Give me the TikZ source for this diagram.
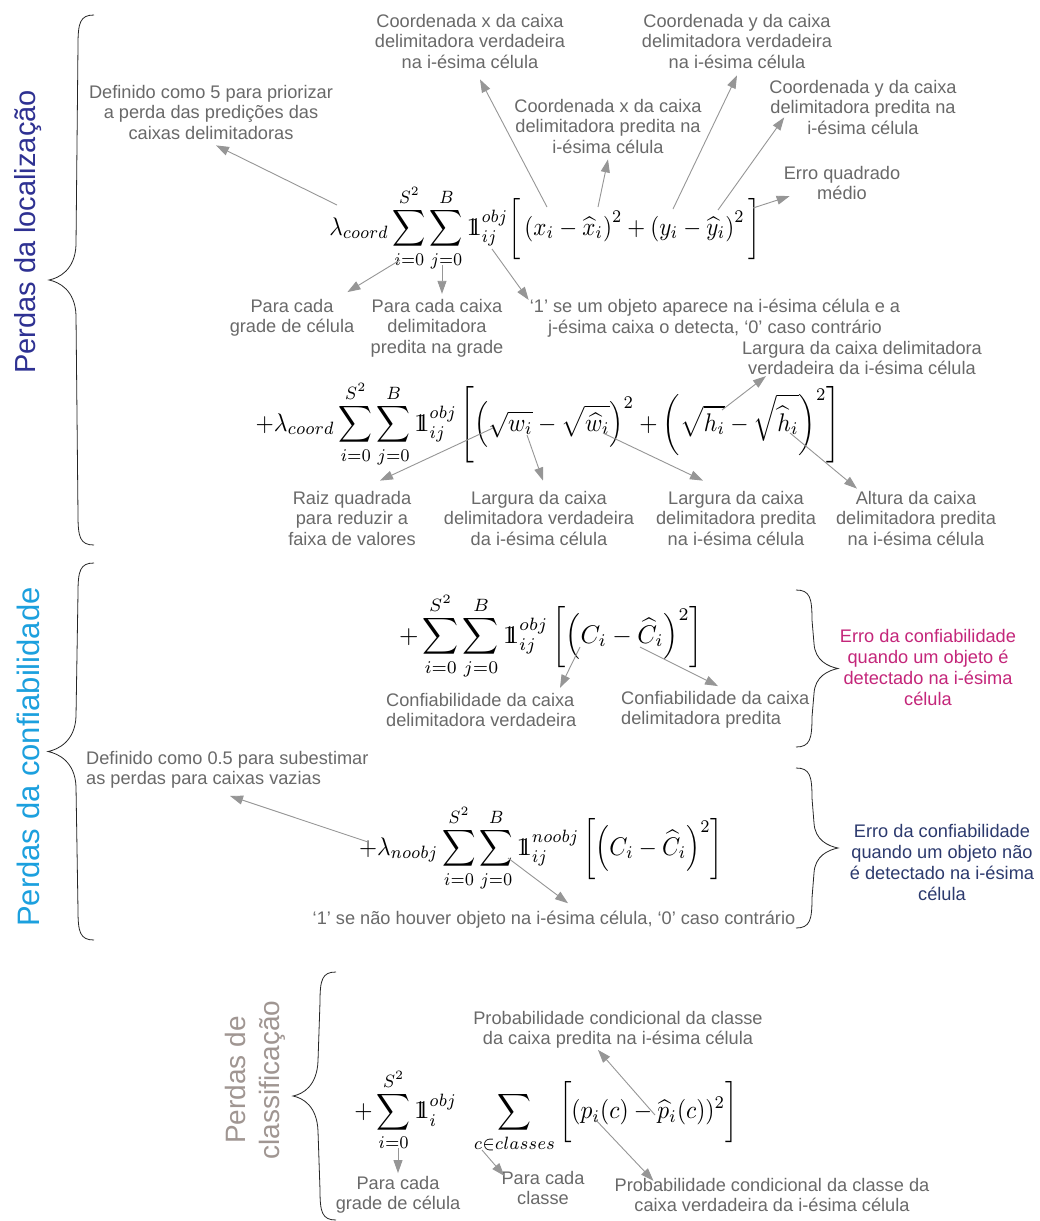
\documentclass[tikz,border=0pt]{standalone}
\usepackage{amsmath}
\usepackage[no-math]{fontspec}
\newfontfamily\lf[Ligatures=TeX]{Liberation Sans}
\usetikzlibrary{arrows.meta,calc}
\definecolor{txtgray}{RGB}{105,105,105}
\definecolor{arrgray}{RGB}{150,150,150}
\definecolor{locblue}{RGB}{46,49,146}
\definecolor{confblue}{RGB}{28,160,222}
\definecolor{clsgray}{RGB}{160,150,146}
\definecolor{errmag}{RGB}{196,38,122}
\definecolor{errblue}{RGB}{44,58,110}
\newcommand{\ind}{\mathrm{1}\mkern-6.5mu\mathrm{1}}
\newcommand{\bracel}[4]{% stem x, top y, bottom y, tip x
  \draw[bracestyle] ({#1+16},#2) .. controls ({#1+2},#2) and (#1,{#2+8}) .. (#1,{#2+30})
    -- ({#1-2},{(#2+#3)/2-35}) .. controls ({#1-3},{(#2+#3)/2-10}) and ({#4+10},{(#2+#3)/2-2}) .. (#4,{(#2+#3)/2})
    .. controls ({#4+10},{(#2+#3)/2+2}) and ({#1-3},{(#2+#3)/2+10}) .. ({#1-2},{(#2+#3)/2+35})
    -- (#1,{#3-30}) .. controls (#1,{#3-8}) and ({#1+2},#3) .. ({#1+16},#3);}
\newcommand{\bracer}[4]{% stem x, top y, bottom y, tip x
  \draw[bracestyle] ({#1-16},#2) .. controls ({#1-2},#2) and (#1,{#2+8}) .. (#1,{#2+30})
    -- ({#1+2},{(#2+#3)/2-25}) .. controls ({#1+3},{(#2+#3)/2-8}) and ({#4-10},{(#2+#3)/2-2}) .. (#4,{(#2+#3)/2})
    .. controls ({#4-10},{(#2+#3)/2+2}) and ({#1+3},{(#2+#3)/2+8}) .. ({#1+2},{(#2+#3)/2+25})
    -- (#1,{#3-30}) .. controls (#1,{#3-8}) and ({#1-2},#3) .. ({#1-16},#3);}
\begin{document}
\begin{tikzpicture}[x=1pt,y=-1pt,
  lbl/.style={font=\lf\fontsize{18.2}{20.5}\selectfont, text=txtgray, align=center, inner sep=1pt},
  frm/.style={yscale=2.55, transform shape, inner sep=0pt},
  arr/.style={draw=arrgray, line width=0.9pt, -{Triangle[length=13pt,width=9pt]}},
  bracestyle/.style={draw=black!85, line width=0.8pt},
  side/.style={font=\lf\fontsize{29}{34}\selectfont, rotate=90, align=center, inner sep=0pt},
  errlbl/.style={font=\lf\fontsize{18.2}{21}\selectfont, align=center, inner sep=1pt}]
\fill[white] (0,0) rectangle (1040,1221);
\useasboundingbox (0,0) rectangle (1040,1221);

% side labels
\node[side, text=locblue] (L1) at (28,232) {Perdas da localização};
\node[side, text=confblue, font=\lf\fontsize{31}{34}\selectfont] (L2) at (28,757) {Perdas da confiabilidade};
\node[side, text=clsgray, font=\lf\fontsize{28}{34}\selectfont] (L3) at (255,1080) {Perdas de\\classificação};

% braces
\bracel{78}{15}{545}{49}
\bracel{78}{563}{940}{48}
\bracel{320}{972}{1220}{293}
\bracer{812}{590}{747}{838}
\bracer{812}{768}{928}{838}

% ---------- localization ----------
\node[frm, xscale=2.3] (F1) at (545,228) {$\displaystyle \lambda_{coord}\sum_{i=0}^{S^2}\sum_{j=0}^{B}\ind_{ij}^{obj}\bigg[\left(x_i-\widehat{x}_i\right)^2+\left(y_i-\widehat{y}_i\right)^2\bigg]$};
\node[lbl] (def5) at (211,112) {Definido como 5 para priorizar\\a perda das predições das\\caixas delimitadoras};
\node[lbl] (cxv) at (470,41) {Coordenada x da caixa\\delimitadora verdadeira\\na i-ésima célula};
\node[lbl] (cyv) at (737,41) {Coordenada y da caixa\\delimitadora verdadeira\\na i-ésima célula};
\node[lbl] (cxp) at (608,126) {Coordenada x da caixa\\delimitadora predita na\\i-ésima célula};
\node[lbl] (cyp) at (863,107) {Coordenada y da caixa\\delimitadora predita na\\i-ésima célula};
\node[lbl] (eqm) at (842,183) {Erro quadrado\\médio};
\node[lbl] (pcg1) at (292,318) {Para cada\\grade de célula};
\node[lbl] (pcc) at (437,328) {Para cada caixa\\delimitadora\\predita na grade};
\node[lbl] (um1) at (715,318) {`1' se um objeto aparece na i-ésima célula e a\\j-ésima caixa o detecta, `0' caso contrário};
\node[lbl] (lvh) at (862,358) {Largura da caixa delimitadora\\verdadeira da i-ésima célula};

\coordinate (t-lam1) at (337,205);
\coordinate (t-i1) at (400,260);
\coordinate (t-j1) at (442,265);
\coordinate (t-ind1) at (492,249);
\coordinate (t-x) at (547,207);
\coordinate (t-xh) at (598,207);
\coordinate (t-y) at (673,209);
\coordinate (t-yh) at (718,210);
\coordinate (t-br1) at (753,208);
\draw[arr] (t-lam1) -- ($(def5.south)+(5,5)$);
\draw[arr] (t-i1) -- ($(pcg1.north east)+(-8,-6)$);
\draw[arr] (t-j1) -- ($(t-j1 |- pcc.north)+(0,-4)$);
\draw[arr] (t-ind1) -- ($(um1.north west)+(0,2)$);
\draw[arr] (t-x) -- ($(cxv.south)+(10,10)$);
\draw[arr] (t-xh) -- ($(cxp.south)+(0,5)$);
\draw[arr] (t-y) -- ($(cyv.south)+(0,6)$);
\draw[arr] (t-yh) -- ($(cyp.south west)+(16,-18)$);
\draw[arr] (t-br1) -- ($(eqm.south west)+(7,-5)$);

\node[frm, xscale=2.35] (F2) at (548,424) {$\displaystyle +\lambda_{coord}\sum_{i=0}^{S^2}\sum_{j=0}^{B}\ind_{ij}^{obj}\left[\left(\sqrt{w_i}-\sqrt{\widehat{w}_i}\right)^2+\left(\sqrt{h_i}-\sqrt{\widehat{h}_i}\right)^2\right]$};
\node[lbl] (rq) at (352,518) {Raiz quadrada\\para reduzir a\\faixa de valores};
\node[lbl] (lv) at (539,518) {Largura da caixa\\delimitadora verdadeira\\da i-ésima célula};
\node[lbl] (lp) at (736,518) {Largura da caixa\\delimitadora predita\\na i-ésima célula};
\node[lbl] (ap) at (916,518) {Altura da caixa\\delimitadora predita\\na i-ésima célula};
\coordinate (t-sq) at (493,428);
\coordinate (t-w) at (527,435);
\coordinate (t-wh) at (603,433);
\coordinate (t-h) at (722,410);
\coordinate (t-hh) at (790,433);
\draw[arr] (t-sq) -- ($(rq.north)+(28,-9)$);
\draw[arr] (t-w) -- ($(lv.north)+(4,-9)$);
\draw[arr] (t-wh) -- ($(lp.north)+(-33,-9)$);
\draw[arr] (t-h) -- ($(lvh.south west)+(25,0)$);
\draw[arr] (t-hh) -- ($(ap.north)+(-59,-1)$);

% ---------- confidence ----------
\node[frm, xscale=2.5] (F3) at (551,636) {$\displaystyle +\sum_{i=0}^{S^2}\sum_{j=0}^{B}\ind_{ij}^{obj}\left[\left(C_i-\widehat{C}_i\right)^2\right]$};
\node[lbl, align=left, anchor=west] (cv) at (385,710) {Confiabilidade da caixa\\delimitadora verdadeira};
\node[lbl, align=left, anchor=west] (cp) at (620,710) {Confiabilidade da caixa\\delimitadora predita};
\coordinate (t-C) at (580,647);
\coordinate (t-Ch) at (640,647);
\draw[arr] (t-C) -- ($(cv.north west)+(175,-4)$);
\draw[arr] (t-Ch) -- ($(cp.north west)+(98,-4)$);
\node[errlbl, text=errmag] (err1) at (928,667) {Erro da confiabilidade\\quando um objeto é\\detectado na i-ésima\\célula};

\node[lbl, align=left, anchor=west] (def05) at (85,770) {Definido como 0.5 para subestimar\\as perdas para caixas vazias};
\node[frm, xscale=2.32] (F4) at (541,848) {$\displaystyle +\lambda_{noobj}\sum_{i=0}^{S^2}\sum_{j=0}^{B}\ind_{ij}^{noobj}\left[\left(C_i-\widehat{C}_i\right)^2\right]$};
\node[lbl] (nao) at (554,920) {`1' se não houver objeto na i-ésima célula, `0' caso contrário};
\coordinate (t-lam2) at (368,842);
\coordinate (t-ind2) at (508,858);
\draw[arr] (t-lam2) -- ($(def05.south west)+(145,6)$);
\draw[arr] (t-ind2) -- ($(nao.north)+(14,-7)$);
\node[errlbl, text=errblue] (err2) at (942,862) {Erro da confiabilidade\\quando um objeto não\\é detectado na i-ésima\\célula};

% ---------- classification ----------
\node[lbl] (prp) at (618,1030) {Probabilidade condicional da classe\\da caixa predita na i-ésima célula};
\node[frm, xscale=2.35] (F5) at (546,1111) {$\displaystyle +\sum_{i=0}^{S^2}\ind_{i}^{obj}\;\;\sum_{c\in classes}\bigg[(p_i(c)-\widehat{p}_i(c))^2\bigg]$};
\node[lbl] (pcg2) at (398,1195) {Para cada\\grade de célula};
\node[lbl] (pcl) at (543,1188) {Para cada\\classe};
\node[lbl] (pcv) at (772,1195) {Probabilidade condicional da classe da\\caixa verdadeira da i-ésima célula};
\coordinate (t-i5) at (398,1148);
\coordinate (t-c5) at (482,1150);
\coordinate (t-ph) at (655,1115);
\coordinate (t-p) at (594,1118);
\draw[arr] (t-i5) -- ($(t-i5 |- pcg2.north)+(0,-2)$);
\draw[arr] (t-c5) -- ($(pcl.north west)+(4,6)$);
\draw[arr] (t-ph) -- ($(prp.south)+(-20,0)$);
\draw[arr] (t-p) -- ($(pcv.north west)+(40,4)$);
\end{tikzpicture}
\end{document}
